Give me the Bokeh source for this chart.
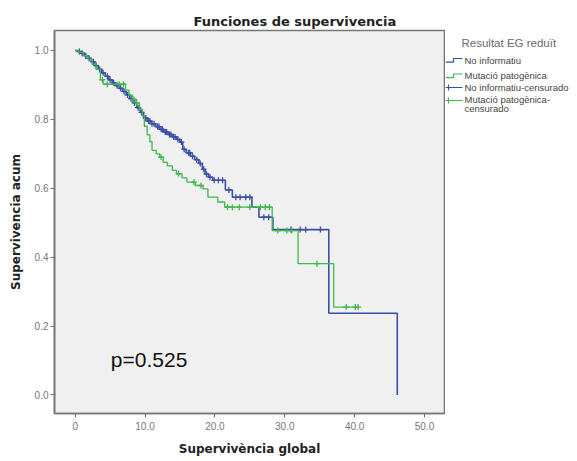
import numpy as np
from bokeh.plotting import figure
from bokeh.models import Range1d, FixedTicker
from bokeh.layouts import row
from bokeh.core.properties import value
from bokeh.embed import file_html
from bokeh.resources import INLINE

# ---------------- data ----------------
title_text = "Funciones de supervivencia"
x_label = "Supervivència global"
y_label = "Supervivencia acum"
legend_title = "Resultat EG reduït"
group_names = ["No informatiu", "Mutació patogènica"]
censor_names = ["No informatiu-censurado", "Mutació patogènica-\ncensurado"]
p_value_text = "p=0.525"

x_ticks = [0, 10, 20, 30, 40, 50]
x_tick_labels = ["0", "10.0", "20.0", "30.0", "40.0", "50.0"]
y_ticks = [0.0, 0.2, 0.4, 0.6, 0.8, 1.0]
y_tick_labels = ["0.0", "0.2", "0.4", "0.6", "0.8", "1.0"]

# group 1: No informatiu (event times and survival after each event)
blue_times = [0.3, 0.8, 1.3, 1.8, 2.3, 2.8, 3.3, 3.8, 4.3, 4.8, 5.3, 5.8, 6.3, 6.8,
              7.3, 7.8, 8.3, 8.8, 9.3, 9.8, 10.3, 10.9, 11.5, 12.1, 12.7, 13.3, 13.9,
              14.5, 15.0, 15.4, 15.9, 16.5, 17.1, 17.7, 18.2, 18.6, 19.1, 19.7, 21.5,
              22.5, 25.3, 26.3, 28.3, 36.3, 46.1]
blue_surv = [0.997, 0.992, 0.985, 0.977, 0.967, 0.956, 0.945, 0.935, 0.925, 0.915,
             0.906, 0.898, 0.890, 0.881, 0.871, 0.860, 0.848, 0.834, 0.820, 0.804,
             0.795, 0.787, 0.779, 0.771, 0.763, 0.756, 0.749, 0.742, 0.734, 0.713,
             0.703, 0.693, 0.683, 0.672, 0.655, 0.641, 0.632, 0.623, 0.595, 0.574,
             0.545, 0.516, 0.480, 0.237, 0.0]
blue_end = 46.1
blue_censor = [0.6, 1.0, 1.5, 2.0, 2.6, 3.0, 3.5, 4.0, 4.6, 5.0, 5.5, 6.0, 6.5, 7.0,
               7.5, 8.0, 8.5, 9.0, 9.5, 10.1, 10.5, 10.7, 11.0, 11.3, 11.8, 12.0,
               12.3, 12.5, 12.9, 13.1, 13.5, 13.7, 14.1, 14.3, 14.7, 15.2, 15.6,
               16.2, 16.4, 16.8, 17.4, 17.9, 18.4, 18.8, 19.3, 19.9, 20.5, 21.1,
               22.0, 23.0, 23.6, 24.4, 25.0, 27.0, 27.7, 30.9, 32.2, 33.0, 35.1]

# group 2: Mutació patogènica
green_times = [0.5, 1.2, 1.8, 2.4, 3.0, 3.6, 4.0, 7.2, 7.7, 8.2, 8.7, 9.2, 9.6, 9.9,
               10.3, 10.7, 11.0, 11.6, 12.1, 12.6, 13.2, 13.9, 14.5, 15.3, 16.0, 17.2,
               18.3, 19.0, 20.4, 21.4, 28.2, 31.9, 37.0]
green_surv = [0.995, 0.985, 0.975, 0.960, 0.945, 0.915, 0.902, 0.885, 0.870, 0.858,
              0.848, 0.830, 0.810, 0.780, 0.755, 0.735, 0.710, 0.700, 0.690, 0.675,
              0.665, 0.652, 0.642, 0.630, 0.618, 0.608, 0.598, 0.574, 0.560, 0.545,
              0.477, 0.381, 0.255]
green_end = 40.5
green_censor = [3.9, 4.6, 6.3, 6.9, 8.4, 8.8, 12.3, 14.8, 17.0, 18.0, 21.8, 22.5,
                23.5, 25.0, 26.5, 27.2, 27.8, 29.0, 30.3, 31.0, 34.6, 38.8, 40.1, 40.5]

p_value_pos = (5.1, 0.102)

colors = ["#3b4fa6", "#3fb84c"]


def km_xy(times, surv, end):
    xs = [0.0] + list(times)
    ys = [1.0] + list(surv)
    if end > xs[-1]:
        xs.append(end)
        ys.append(ys[-1])
    return xs, ys


def surv_at(times, surv, ts):
    idx = np.searchsorted(np.asarray(times), np.asarray(ts), side="right")
    s = np.concatenate([[1.0], np.asarray(surv)])
    return list(s[idx])


# ---------------- main plot ----------------
p = figure(width=445, height=461,
           x_range=Range1d(-2.96, 52.86), y_range=Range1d(-0.054, 1.058),
           output_backend="svg", toolbar_location=None,
           min_border_left=54, min_border_right=1, min_border_top=30,
           min_border_bottom=48)
p.background_fill_color = "#f0f0f0"
p.border_fill_color = "white"
p.outline_line_color = "#777777"
p.outline_line_width = 1.6
p.grid.visible = False

p.title.text = title_text
p.title.align = "left"
p.title.offset = 139
p.title.text_font = "DejaVu Sans"
p.title.text_font_size = "13px"
p.title.text_font_style = "bold"
p.title.text_color = "#222222"
p.title.standoff = 4

for ax, ticks, labels in ((p.xaxis[0], x_ticks, x_tick_labels),
                          (p.yaxis[0], y_ticks, y_tick_labels)):
    ax.ticker = FixedTicker(ticks=ticks)
    ax.major_label_overrides = {t: l for t, l in zip(ticks, labels)}
    ax.minor_tick_line_color = None
    ax.major_tick_out = 4
    ax.major_tick_in = 0
    ax.major_tick_line_color = "#707070"
    ax.axis_line_color = "#777777"
    ax.axis_line_width = 1.6
    ax.major_label_text_font = "Liberation Sans"
    ax.major_label_text_font_size = "10px"
    ax.major_label_text_color = "#777777"
    ax.axis_label_text_font = "DejaVu Sans"
    ax.axis_label_text_font_size = "12px"
    ax.axis_label_text_font_style = "bold"
    ax.axis_label_text_color = "#222222"

p.xaxis.axis_label = x_label
p.yaxis.axis_label = y_label
p.xaxis.major_label_standoff = 4
p.yaxis.major_label_standoff = 2
p.xaxis.axis_label_standoff = 9
p.yaxis.axis_label_standoff = 9

groups = [(blue_times, blue_surv, blue_end, blue_censor),
          (green_times, green_surv, green_end, green_censor)]
for (times, surv, end, cens), col, lw in zip(groups, colors, (1.6, 1.3)):
    xs, ys = km_xy(times, surv, end)
    p.step(xs, ys, mode="after", line_color=col, line_width=lw)
    p.scatter(cens, surv_at(times, surv, cens), marker="cross", size=6,
              line_color=col, line_width=1.3)

p.text(x=[p_value_pos[0]], y=[p_value_pos[1]], text=[p_value_text],
       text_font=value("Liberation Sans"), text_font_size="21px",
       text_color="#111111", text_baseline="alphabetic", text_align="left")

# ---------------- legend panel (frame aligned with main plot: screen y 30..413) ----
leg = figure(width=132, height=461, x_range=Range1d(0, 132), y_range=Range1d(413, 30),
             output_backend="svg", toolbar_location=None, title_location=None,
             x_axis_type=None, y_axis_type=None, min_border=0,
             min_border_left=0, min_border_right=0, min_border_top=30,
             min_border_bottom=48)
leg.outline_line_color = None
leg.background_fill_color = "white"
leg.border_fill_color = "white"

leg.text(x=[16], y=[42], text=[legend_title], text_font=value("Liberation Sans"),
         text_font_size="11.5px", text_color="#6a6a6a", text_baseline="middle")

row_y = [59.5, 75.0, 87.0, 97.0]
for i, col in enumerate(colors):
    yl, yh = row_y[i] + 2.2, row_y[i] - 1.5
    leg.line([0, 8, 8, 17], [yl, yl, yh, yh], line_color=col, line_width=1.2)
    leg.text(x=[19], y=[row_y[i]], text=[group_names[i]],
             text_font=value("Liberation Sans"), text_font_size="9.5px",
             text_color="#444444", text_baseline="middle")
for i, col in enumerate(colors):
    yy = row_y[2 + i] + (3 if i == 1 else 0)
    leg.line([0, 17], [yy, yy], line_color=col, line_width=1.2)
    leg.scatter([3], [yy], marker="cross", size=6, line_color=col, line_width=1.2)
    leg.text(x=[19], y=[row_y[2 + i] - (4 if i == 1 else 0)], text=[censor_names[i]],
             text_font=value("Liberation Sans"), text_font_size="9.5px",
             text_color="#444444", text_baseline="top" if i == 1 else "middle",
             text_line_height=0.9)

layout = row(p, leg)
open("out.html", "w").write(file_html(layout, INLINE))
